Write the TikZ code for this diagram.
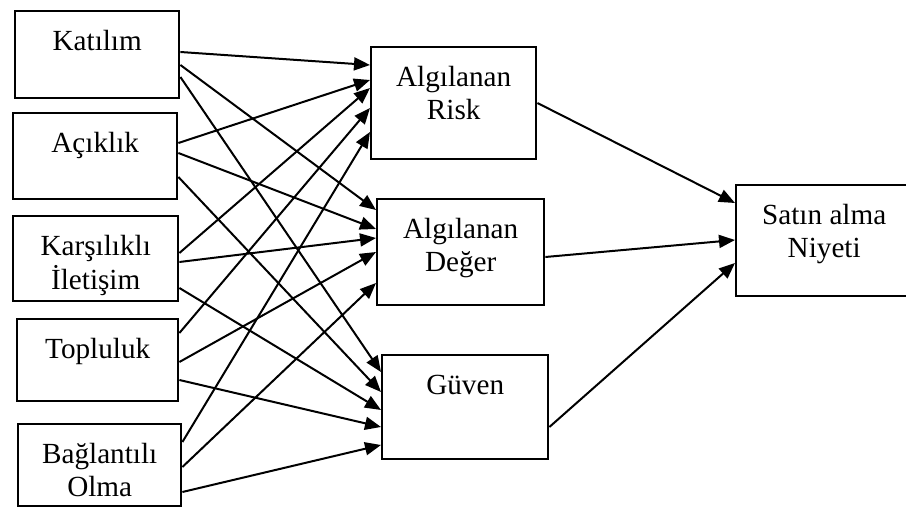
\documentclass[tikz,border=0pt]{standalone}
\usepackage{fontspec}
\setmainfont{Liberation Serif}
\usetikzlibrary{calc, arrows.meta}

% two lines, baseline on the first one
\newcommand{\twoline}[2]{\begin{tabular}[t]{@{}c@{}}#1\\#2\end{tabular}}

\tikzset{
	factor/.style={draw, line width=1.2pt, inner sep=0pt, anchor=north west,
		text height=19.5pt, font=\fontsize{14.6}{16.5}\selectfont},
	arr/.style={line width=1pt, -{Triangle[length=8pt, width=6.5pt]}}
}

\begin{document}
\begin{tikzpicture}[x=0.5pt, y=-0.5pt]
			\useasboundingbox (0,0) rectangle (906,507);

			% social media features
			\begin{scope}
				\node[factor, minimum width=82pt, text depth=24pt] (kat) at (14,10) {Katılım};
				\node[factor, minimum width=82pt, text depth=23.5pt] (acik) at (12,112) {Açıklık};
				\node[factor, minimum width=82.5pt, text depth=23pt] (kars) at (12,215) {\twoline{Karşılıklı}{İletişim}};
				\node[factor, minimum width=80.5pt, text depth=21.5pt] (topl) at (16,318) {Topluluk};
				\node[factor, minimum width=81.5pt, text depth=21.5pt] (bag) at (17,423) {\twoline{Bağlantılı}{Olma}};
			\end{scope}

			% mediators
			\begin{scope}
				\node[factor, minimum width=82.5pt, text depth=36.5pt] (risk) at (370,46) {\twoline{Algılanan}{Risk}};
				\node[factor, minimum width=83.5pt, text depth=33.5pt] (deger) at (376,198) {\twoline{Algılanan}{Değer}};
				\node[factor, minimum width=83pt, text depth=32.5pt] (guven) at (381,354) {Güven};
			\end{scope}

			\node[factor, minimum width=88pt, text depth=36pt] (niyet) at (735,184) {\twoline{Satın alma}{Niyeti}};

			\foreach \src/\a/\dst/\b in {kat/42/risk/19, kat/55/deger/12, kat/67/guven/18,
				acik/31/risk/34, acik/41/deger/31, acik/65/guven/38,
				kars/38/risk/42, kars/47/deger/40, kars/73/guven/56,
				topl/15/risk/62, topl/44/deger/54, topl/62/guven/73,
				bag/19/risk/86, bag/44/deger/85, bag/69/guven/91,
				risk/57/niyet/19, deger/59/niyet/56, guven/73/niyet/79}
			{
				\draw[arr] ($(\src.north east)+(0,\a)$) -- ($(\dst.north west)+(0,\b)$);
			}
		\end{tikzpicture}
\end{document}
